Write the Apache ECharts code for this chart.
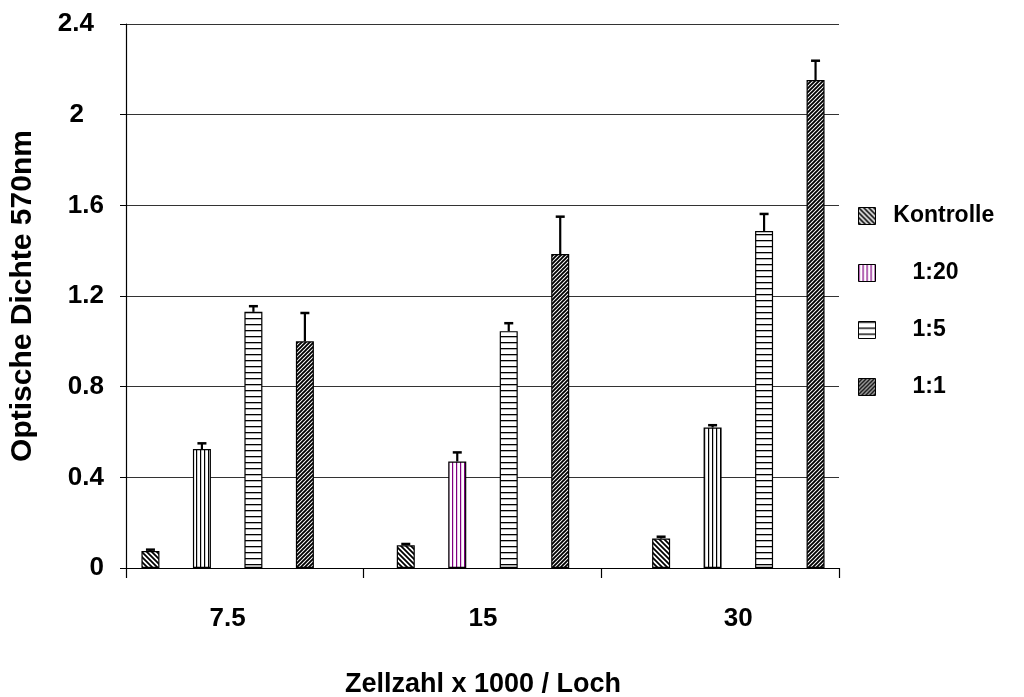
<!DOCTYPE html>
<html>
<head>
<meta charset="utf-8">
<script src="https://cdn.jsdelivr.net/npm/echarts@6/dist/echarts.min.js"></script>
<style>html,body{margin:0;padding:0;background:#fff;}#c{width:1024px;height:697px;}</style>
</head>
<body>
<div id="c"></div>
<script>
// ---- data ----
const categories = ['7.5', '15', '30'];
const seriesNames = ['Kontrolle', '1:20', '1:5', '1:1'];
const kontrolle = [0.075, 0.10, 0.13];
const ratio20 = [0.525, 0.47, 0.62];
const ratio5 = [1.13, 1.045, 1.487];
const ratio1 = [1.00, 1.385, 2.153];
const errKontrolle = [0.006, 0.006, 0.008];
const err20 = [0.025, 0.04, 0.01];
const err5 = [0.025, 0.035, 0.075];
const err1 = [0.125, 0.165, 0.085];
const yMin = 0, yMax = 2.4, yStep = 0.4;
const xTitle = 'Zellzahl x 1000 / Loch';
const yTitle = 'Optische Dichte 570nm';

// ---- patterns ----
function makeTile(w, h, draw) {
  const c = document.createElement('canvas');
  c.width = w; c.height = h;
  const ctx = c.getContext('2d');
  ctx.fillStyle = '#fff';
  ctx.fillRect(0, 0, w, h);
  draw(ctx, w, h);
  return { image: c, repeat: 'repeat' };
}
function backDiag(n, lw) {
  return makeTile(n, n, (ctx) => {
    ctx.strokeStyle = '#000'; ctx.lineWidth = lw;
    ctx.beginPath();
    ctx.moveTo(0, 0); ctx.lineTo(n, n);
    ctx.moveTo(-2, n - 2); ctx.lineTo(2, n + 2);
    ctx.moveTo(n - 2, -2); ctx.lineTo(n + 2, 2);
    ctx.stroke();
  });
}
function fwdDiag(n, lw) {
  return makeTile(n, n, (ctx) => {
    ctx.strokeStyle = '#000'; ctx.lineWidth = lw;
    ctx.beginPath();
    ctx.moveTo(0, n); ctx.lineTo(n, 0);
    ctx.moveTo(-2, 2); ctx.lineTo(2, -2);
    ctx.moveTo(n - 2, n + 2); ctx.lineTo(n + 2, n - 2);
    ctx.stroke();
  });
}
function vert(n, color) {
  return makeTile(n, 4, (ctx) => {
    ctx.fillStyle = color; ctx.fillRect(0, 0, 1.2, 4);
  });
}
function horiz(n) {
  return makeTile(4, n, (ctx) => {
    ctx.fillStyle = '#000'; ctx.fillRect(0, 0, 4, 1.3);
  });
}
const patKontrolle = backDiag(5, 1.8);
const pat20black = vert(4.5, '#000');
const pat20purple = vert(4.5, '#800080');
const pat5 = horiz(6);
const pat1 = fwdDiag(4, 1.9);

const barW = 18;
const gapRatio = 1.86;
const FONT = 'Liberation Sans';

function barSeries(name, values, pattern, overrides) {
  return {
    name: name, type: 'bar', xAxisIndex: 0, yAxisIndex: 0,
    barWidth: barW, barGap: (gapRatio * 100) + '%',
    itemStyle: { color: pattern, borderColor: '#000', borderWidth: 1.2 },
    data: values.map((v, i) => (overrides && overrides[i]) ? { value: v, itemStyle: { color: overrides[i] } } : v),
    z: 2
  };
}

const barValues = [kontrolle, ratio20, ratio5, ratio1];
const errValues = [errKontrolle, err20, err5, err1];

function errSeries(k) {
  const offset = (k - 1.5) * barW * (1 + gapRatio);
  return {
    type: 'custom', xAxisIndex: 0, yAxisIndex: 0, z: 5, silent: true,
    data: categories.map((c, i) => [i, barValues[k][i], errValues[k][i]]),
    renderItem: function (params, api) {
      const i = api.value(0), v = api.value(1), e = api.value(2);
      const p0 = api.coord([i, v]);
      const p1 = api.coord([i, v + e]);
      const x = p0[0] + offset;
      return {
        type: 'group',
        children: [
          { type: 'line', shape: { x1: x, y1: p0[1], x2: x, y2: p1[1] }, style: { stroke: '#000', lineWidth: 2.2 } },
          { type: 'line', shape: { x1: x - 4.5, y1: p1[1], x2: x + 4.5, y2: p1[1] }, style: { stroke: '#000', lineWidth: 2.5 } }
        ]
      };
    }
  };
}

const labelFont = { fontFamily: FONT, fontWeight: 'bold', fontSize: 26, color: '#000' };

const chart = echarts.init(document.getElementById('c'), null, { renderer: 'canvas' });
chart.setOption({
  animation: false,
  backgroundColor: '#fff',
  textStyle: { fontFamily: FONT },
  grid: [
    { left: 100, right: 158, top: 24, bottom: 129, containLabel: false, outerBoundsMode: 'none' },
    { left: 126, right: 185, top: 24, bottom: 129, containLabel: false, outerBoundsMode: 'none' }
  ],
  xAxis: [
    {
      gridIndex: 0, type: 'category', data: categories,
      axisLine: { show: false }, axisTick: { show: false },
      axisLabel: Object.assign({ margin: 38 }, labelFont),
      name: xTitle, nameLocation: 'middle', nameGap: 103,
      nameTextStyle: Object.assign({}, labelFont, { fontSize: 27 })
    },
    {
      gridIndex: 1, type: 'category', data: categories.map(() => ''),
      boundaryGap: true,
      axisLine: { show: true, lineStyle: { color: '#000', width: 1.2 } },
      axisTick: { show: true, length: 10, lineStyle: { color: '#000', width: 1.2 } },
      axisLabel: { show: false }
    }
  ],
  yAxis: [
    { gridIndex: 0, type: 'value', min: yMin, max: yMax, interval: yStep, show: false },
    {
      gridIndex: 1, type: 'value', min: yMin, max: yMax, interval: yStep,
      axisLine: { show: true, lineStyle: { color: '#000', width: 1.2 } },
      axisTick: { show: true, length: 6, lineStyle: { color: '#000' } },
      splitLine: { show: true, lineStyle: { color: '#333', width: 1.2 } },
      axisLabel: Object.assign({
        margin: 22,
        formatter: (v) => {
          const s = String(+v.toFixed(1));
          if (s === '2.4') return '{a|' + s + '}';
          if (s === '2') return '{b|' + s + '}';
          return s;
        },
        rich: {
          a: Object.assign({ padding: [0, 10, 0, 0] }, labelFont),
          b: Object.assign({ padding: [0, 20, 0, 0] }, labelFont)
        }
      }, labelFont),
      name: yTitle, nameLocation: 'middle', nameGap: 88, nameRotate: 90,
      nameTextStyle: Object.assign({}, labelFont, { fontSize: 30 })
    }
  ],
  legend: {
    orient: 'vertical', left: 858, top: 204, itemGap: 33, padding: 0,
    itemWidth: 17, itemHeight: 17, icon: 'rect',
    data: seriesNames,
    itemStyle: { borderColor: '#000', borderWidth: 1 },
    formatter: (n) => n === 'Kontrolle' ? '  ' + n : '     ' + n,
    textStyle: { fontFamily: FONT, fontWeight: 'bold', fontSize: 23, color: '#000', lineHeight: 24 }
  },
  series: [
    barSeries(seriesNames[0], kontrolle, patKontrolle),
    barSeries(seriesNames[1], ratio20, pat20purple, [pat20black, null, pat20black]),
    barSeries(seriesNames[2], ratio5, pat5),
    barSeries(seriesNames[3], ratio1, pat1),
    errSeries(0), errSeries(1), errSeries(2), errSeries(3)
  ]
});
</script>
</body>
</html>
